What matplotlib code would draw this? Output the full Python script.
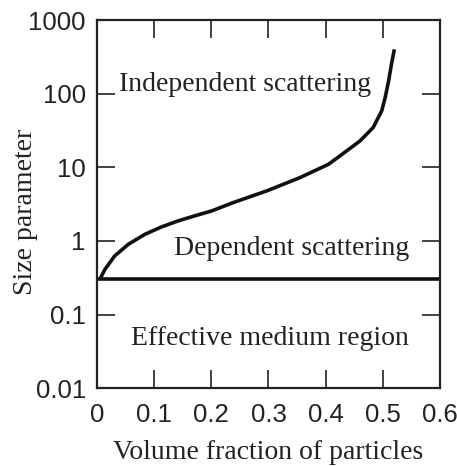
import matplotlib
matplotlib.use("Agg")
import matplotlib.pyplot as plt
from matplotlib.ticker import FixedLocator, FixedFormatter, NullLocator

# boundary curve between independent and dependent scattering
vol_frac = [0.005, 0.014, 0.031, 0.055, 0.084, 0.113, 0.142, 0.171, 0.201, 0.238,
            0.297, 0.355, 0.405, 0.425, 0.460, 0.483, 0.498, 0.504, 0.510, 0.515, 0.520]
size_param = [0.30, 0.41, 0.625, 0.90, 1.23, 1.55, 1.87, 2.19, 2.56, 3.31,
              4.78, 7.24, 11.0, 14.3, 22.8, 34.7, 58.5, 88.6, 149.0, 252.0, 400.0]

# effective medium limit
medium_limit = 0.3

x_ticks = [0, 0.1, 0.2, 0.3, 0.4, 0.5, 0.6]
x_labels = ["0", "0.1", "0.2", "0.3", "0.4", "0.5", "0.6"]
y_ticks = [0.01, 0.1, 1, 10, 100, 1000]
y_labels = ["0.01", "0.1", "1", "10", "100", "1000"]

region_labels = ["Independent scattering", "Dependent scattering", "Effective medium region"]
region_pos = [(0.259, 135), (0.34, 0.8), (0.303, 0.047)]

serif = "Liberation Serif"
sans = "Liberation Sans"
ink = "#111111"

fig = plt.figure(figsize=(4.57, 4.66), dpi=100)
ax = fig.add_axes([0.212, 0.167, 0.751, 0.790])

ax.plot(vol_frac, size_param, color=ink, lw=2.6, solid_capstyle="butt")
ax.axhline(medium_limit, color=ink, lw=2.6)

ax.set_yscale("log")
ax.set_xlim(0, 0.6)
ax.set_ylim(0.01, 1000)

ax.xaxis.set_major_locator(FixedLocator(x_ticks))
ax.xaxis.set_major_formatter(FixedFormatter(x_labels))
ax.yaxis.set_major_locator(FixedLocator(y_ticks))
ax.yaxis.set_major_formatter(FixedFormatter(y_labels))
ax.xaxis.set_minor_locator(NullLocator())
ax.yaxis.set_minor_locator(NullLocator())

ax.tick_params(direction="in", length=13, width=1.3, color="#333333",
               top=True, right=True, labelsize=18.5)
ax.tick_params(axis="x", pad=10.5)
ax.tick_params(axis="y", pad=8)
for lab in ax.get_xticklabels() + ax.get_yticklabels():
    lab.set_family(sans)
    lab.set_color("#222222")

for s in ax.spines.values():
    s.set_linewidth(1.6)
    s.set_color("#222222")

for txt, (x, y) in zip(region_labels, region_pos):
    ax.text(x, y, txt, ha="center", va="center", family=serif, fontsize=20, color="#222222")

ax.set_xlabel("Volume fraction of particles", family=serif, fontsize=20, color="#222222")
ax.set_ylabel("Size parameter", family=serif, fontsize=20, color="#222222")
ax.xaxis.set_label_coords(0.5, -0.14)
ax.yaxis.set_label_coords(-0.208, 0.48)
ax.yaxis.label.set_verticalalignment("center")

fig.savefig("out.png", dpi=100)
